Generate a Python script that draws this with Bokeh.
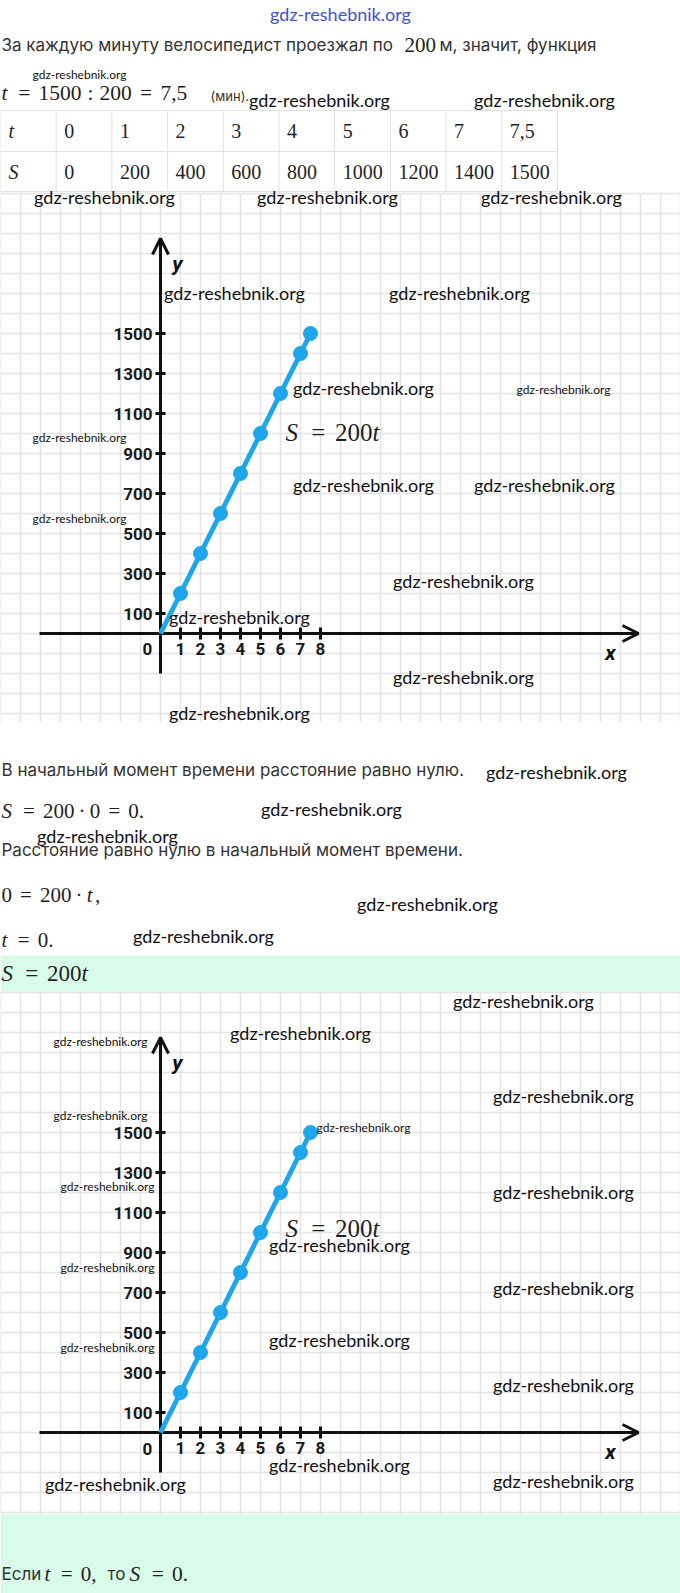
import numpy as np
from bokeh.plotting import figure
from bokeh.models import Range1d, LinearAxis, FixedTicker, Arrow, OpenHead, BoxAnnotation
from bokeh.core.properties import value
from bokeh.embed import file_html
from bokeh.resources import INLINE

# ---------------- data ----------------
t_vals = [0, 1, 2, 3, 4, 5, 6, 7, 7.5]
S_vals = [0, 200, 400, 600, 800, 1000, 1200, 1400, 1500]
t_labels = ["0", "1", "2", "3", "4", "5", "6", "7", "7,5"]
S_labels = ["0", "200", "400", "600", "800", "1000", "1200", "1400", "1500"]
x_ticks = [1, 2, 3, 4, 5, 6, 7, 8]
y_ticks = [100, 300, 500, 700, 900, 1100, 1300, 1500]

# ---------------- page geometry (reference pixels) ----------------
PW, PH = 680, 1593
X0, X1, Y0, Y1 = 0, 680, 0, 1593
OX, UX, SPP = 160, 20.0, 5.0      # origin x, px per unit t, S per px
OY1, OY2 = 633, 1432              # x-axis rows of the two charts
SH = 1                            # left text inset

SANS = "Inter"
SERIF = "Liberation Serif"
WMF = "Lato"
BLUE = "#1ea6ea"
INK = "#111111"
TXT = "#333333"
MTXT = "#1f1f1f"
GREEN = "#d9fbe9"
GRID = "#e4e4e4"

p = figure(width=PW, height=PH, x_range=Range1d(X0, X1), y_range=Range1d(Y1, Y0),
           output_backend="svg", toolbar_location=None,
           x_axis_location=None, y_axis_location=None, min_border=0,
           outline_line_color=None, background_fill_color="white",
           border_fill_color="white")
p.grid.visible = False

p.extra_x_ranges = {"cx": Range1d((X0 - OX) / UX, (X1 - OX) / UX)}
p.extra_y_ranges = {
    "c1y": Range1d((OY1 - Y1) * SPP, (OY1 - Y0) * SPP),
    "c2y": Range1d((OY2 - Y1) * SPP, (OY2 - Y0) * SPP),
}

# ---------------- backgrounds ----------------
p.add_layout(BoxAnnotation(top=955, bottom=991, fill_color=GREEN, fill_alpha=1,
                           line_color=None, level="underlay"))
p.add_layout(BoxAnnotation(top=1514, bottom=1600, fill_color=GREEN, fill_alpha=1,
                           line_color=None, level="underlay"))

# ---------------- helpers ----------------
CMW = {"t": 0.361, "S": 0.613, "=": 0.778, ":": 0.278, ",": 0.444, ".": 0.278, "·": 0.278}
REL = 0.2778
BIN = 0.2222


def sans(x, y, s, size="17px", color=TXT, style="normal", align="left", **kw):
    p.text(x=[x], y=[y], text=[s], text_font=value(SANS), text_font_size=size,
           text_color=color, text_font_style=style, text_baseline="middle",
           text_align=align, level="overlay", **kw)


def mtext(x, y, s, off, em, style, align, **kw):
    p.text(x=[x], y=[y], text=[s], x_offset=off, text_font=value(SERIF),
           text_font_size=f"{em}px", text_color=MTXT, text_font_style=style,
           text_baseline="middle", text_align=align, level="overlay", **kw)


def math(x, y, tokens, em, **kw):
    off = 0.0
    for s, kind in tokens:
        if kind == "var":
            mtext(x, y, s, off, em, "italic", "left", **kw)
            off += (CMW[s] + 0.03) * em
        elif kind == "num":
            w = sum(CMW.get(c, 0.5) for c in s)
            mtext(x, y, s, off, em, "normal", "left", **kw)
            off += w * em
        elif kind == "rel":
            off += REL * em
            mtext(x, y, s, off + CMW[s] * em / 2, em, "normal", "center", **kw)
            off += (CMW[s] + REL) * em
        elif kind == "bin":
            off += BIN * em
            mtext(x, y, s, off + CMW[s] * em / 2, em, "normal", "center", **kw)
            off += (CMW[s] + BIN) * em
        else:  # trailing punctuation
            mtext(x, y, s, off, em, "normal", "left", **kw)
            off += CMW[s] * em
    return off


# ---------------- header ----------------
p.text(x=[340], y=[13], text=["gdz-reshebnik.org"], text_font=value(WMF),
       text_font_size="18px", text_color="#4350d2", text_align="center",
       text_baseline="middle", level="overlay")

sans(SH, 44, "За каждую минуту велосипедист проезжал по")
math(SH + 403, 44, [("200", "num")], 21)
sans(SH + 438, 44, "м, значит, функция")

math(SH, 92, [("t", "var"), ("=", "rel"), ("1500", "num"), (":", "rel"),
              ("200", "num"), ("=", "rel"), ("7,5", "num")], 21.5)
sans(210, 95, "(мин).", size="13px")

# table
CW = 55.7
TT, TM, TB = 110, 151, 191
cols = [CW * k for k in range(11)]
p.segment(x0=[0, 0, 0], y0=[TT, TM, TB], x1=[cols[-1]] * 3, y1=[TT, TM, TB],
          line_color="#e2e2e2", line_width=1)
p.segment(x0=cols, y0=[TT] * len(cols), x1=cols, y1=[TB] * len(cols),
          line_color="#e2e2e2", line_width=1)
p.text(x=[8], y=[130], text=["t"], text_font=value(SERIF), text_font_size="20px",
       text_font_style="italic", text_color=MTXT, text_baseline="middle", level="overlay")
p.text(x=[8], y=[171], text=["S"], text_font=value(SERIF), text_font_size="20px",
       text_font_style="italic", text_color=MTXT, text_baseline="middle", level="overlay")
p.text(x=[cols[i + 1] + 8 for i in range(len(t_labels))], y=[130] * len(t_labels),
       text=t_labels, text_font=value(SERIF), text_font_size="20px", text_color=MTXT,
       text_baseline="middle", level="overlay")
p.text(x=[cols[i + 1] + 8 for i in range(len(S_labels))], y=[171] * len(S_labels),
       text=S_labels, text_font=value(SERIF), text_font_size="20px", text_color=MTXT,
       text_baseline="middle", level="overlay")


# ---------------- charts ----------------
def chart(yname, OY, Ytop, Ybot, lab_S, zero_S):
    xr = p.extra_x_ranges["cx"]
    s_top = (OY - Ytop) * SPP
    s_bot = (OY - Ybot) * SPP
    tx = np.arange(np.ceil(xr.start), np.floor(xr.end) + 1)
    p.segment(x0=tx, y0=s_bot, x1=tx, y1=s_top, line_color=GRID, line_width=1.6,
              x_range_name="cx", y_range_name=yname)
    sy = np.arange(np.ceil(s_bot / 100) * 100, s_top + 1, 100)
    p.segment(x0=xr.start, y0=sy, x1=xr.end, y1=sy, line_color=GRID, line_width=1.6,
              x_range_name="cx", y_range_name=yname)

    common = dict(axis_line_width=3, axis_line_color=INK, major_tick_line_width=3,
                  major_tick_line_color=INK, minor_tick_line_color=None,
                  major_label_text_font="Roboto", major_label_text_font_size="17px",
                  major_label_text_font_style="bold", major_label_text_color="#1a1a1a")
    ya = LinearAxis(x_range_name="cx", y_range_name=yname, fixed_location=0,
                    ticker=FixedTicker(ticks=y_ticks), bounds=(-200, 1975),
                    major_tick_in=5, major_tick_out=5, major_label_standoff=3, **common)
    p.add_layout(ya, "left")
    xa = LinearAxis(x_range_name="cx", y_range_name=yname, fixed_location=0,
                    ticker=FixedTicker(ticks=x_ticks), bounds=(-6.05, 23.9),
                    major_tick_in=6, major_tick_out=6, major_label_standoff=3, **common)
    p.add_layout(xa, "below")

    p.add_layout(Arrow(end=OpenHead(size=16, line_width=3, line_color=INK),
                       x_start=0, y_start=1900, x_end=0, y_end=1975,
                       x_range_name="cx", y_range_name=yname, line_width=3, line_color=INK))
    p.add_layout(Arrow(end=OpenHead(size=16, line_width=3, line_color=INK),
                       x_start=23.0, y_start=0, x_end=23.9, y_end=0,
                       x_range_name="cx", y_range_name=yname, line_width=3, line_color=INK))

    p.line(t_vals, S_vals, line_color=BLUE, line_width=5, x_range_name="cx",
           y_range_name=yname, level="annotation")
    p.scatter(t_vals[1:], S_vals[1:], size=14, fill_color=BLUE, line_color=BLUE,
              x_range_name="cx", y_range_name=yname, level="annotation")

    p.text(x=[-0.65], y=[zero_S], text=["0"], text_font=value("Roboto"),
           text_font_size="17px", text_font_style="bold", text_color="#1a1a1a",
           text_align="center", text_baseline="middle", x_range_name="cx",
           y_range_name=yname, level="overlay")
    p.text(x=[0.85], y=[1850], text=["y"], text_font=value("Roboto"),
           text_font_size="21px", text_font_style="bold italic", text_color=INK,
           text_align="center", text_baseline="middle", x_range_name="cx",
           y_range_name=yname, level="overlay")
    p.text(x=[22.5], y=[-95], text=["x"], text_font=value("Roboto"),
           text_font_size="21px", text_font_style="bold italic", text_color=INK,
           text_align="center", text_baseline="middle", x_range_name="cx",
           y_range_name=yname, level="overlay")
    math(6.25, lab_S, [("S", "var"), ("=", "rel"), ("200", "num"), ("t", "var")], 25,
         x_range_name="cx", y_range_name=yname)


chart("c1y", OY1, 193, 722, 1005, -75)
chart("c2y", OY2, 991, 1514, 1020, -80)

# ---------------- middle text ----------------
sans(SH, 769, "В начальный момент времени расстояние равно нулю.")
math(SH, 810, [("S", "var"), ("=", "rel"), ("200", "num"), ("·", "bin"), ("0", "num"),
               ("=", "rel"), ("0.", "num")], 21)
sans(SH, 849, "Расстояние равно нулю в начальный момент времени.")
math(SH, 894, [("0", "num"), ("=", "rel"), ("200", "num"), ("·", "bin"), ("t", "var"),
               (",", "end")], 21)
math(SH, 939, [("t", "var"), ("=", "rel"), ("0.", "num")], 21)
math(SH, 973, [("S", "var"), ("=", "rel"), ("200", "num"), ("t", "var")], 23)

# footer
sans(SH, 1573, "Если")
e1 = math(SH + 43, 1573, [("t", "var"), ("=", "rel"), ("0", "num"), (",", "end")], 21)
sans(SH + 43 + e1 + 7, 1573, "то")
math(SH + 43 + e1 + 29, 1573, [("S", "var"), ("=", "rel"), ("0.", "num")], 21.5)

# ---------------- watermarks ----------------
wm_large = [(319, 99), (544, 99), (104, 196), (327, 196), (551, 196), (234, 292),
            (459, 292), (363, 387), (363, 484), (544, 484), (463, 580), (239, 616),
            (463, 676), (239, 712), (556, 771), (331, 808), (107, 835), (427, 903),
            (203, 935), (523, 1000), (300, 1032), (563, 1095), (563, 1191), (339, 1244),
            (563, 1287), (339, 1339), (563, 1384), (339, 1464), (563, 1480), (115, 1483)]
wm_small = [(79, 74), (563, 389), (79, 437), (79, 518), (100, 1041), (100, 1115),
            (363, 1127), (107, 1186), (107, 1267), (107, 1347)]
p.text(x=[a for a, b in wm_large], y=[b for a, b in wm_large],
       text=["gdz-reshebnik.org"] * len(wm_large), text_font=value(WMF),
       text_font_size="18px", text_color="#111111", text_align="center",
       text_baseline="middle", level="overlay")
p.text(x=[a for a, b in wm_small], y=[b for a, b in wm_small],
       text=["gdz-reshebnik.org"] * len(wm_small), text_font=value(WMF),
       text_font_size="12px", text_color="#111111", text_align="center",
       text_baseline="middle", level="overlay")

open("out.html", "w").write(file_html(p, INLINE))
